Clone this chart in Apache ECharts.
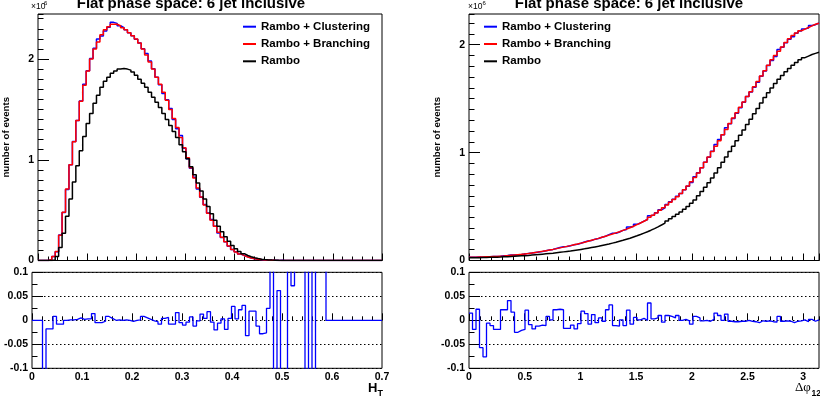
<!DOCTYPE html>
<html>
<head>
<meta charset="utf-8">
<script src="https://cdn.jsdelivr.net/npm/echarts@6/dist/echarts.min.js"></script>
<style>
html,body{margin:0;padding:0;background:#fff;}
#chart{width:820px;height:399px;}
</style>
</head>
<body>
<div id="chart"></div>
<script>
// ---------------- data (main plots in units of 10^6 events) ----------------
const seriesNames = ['Rambo + Clustering', 'Rambo + Branching', 'Rambo'];
const htRange = [0, 0.7];
const dphiRange = [0, Math.PI];

// H_T panel, 100 bins
const htClustering = [
0,0,0,0.0064,0.039,0.088,0.252,0.476,0.704,0.95,
1.181,1.391,1.583,1.749,1.884,2.006,2.106,2.2,2.229,2.279,
2.315,2.364,2.354,2.33,2.312,2.29,2.262,2.23,2.196,2.16,
2.102,2.056,1.98,1.904,1.818,1.745,1.657,1.596,1.509,1.399,
1.309,1.24,1.114,1.01,0.916,0.826,0.711,0.629,0.557,0.472,
0.407,0.339,0.274,0.229,0.186,0.142,0.11,0.087,0.065,0.049,
0.036,0.024,0.018,0.013,0.009,0.006,0.004,0.0029,0.0022,0.001,
0.0013,0.0004,0.00024,0.00024,0.00016,0.00012,0.00008,0.00006,0.000024,0.000024,
0.000008,0.000012,0.000006,0.000004,0,0,0,0,0,0,
0,0,0,0,0,0,0,0,0,0];
const htBranching = [
0,0,0,0.008,0.04,0.09,0.25,0.48,0.71,0.95,
1.18,1.39,1.58,1.74,1.88,2.0,2.1,2.17,2.24,2.29,
2.32,2.345,2.345,2.33,2.31,2.29,2.26,2.23,2.2,2.16,
2.1,2.04,1.97,1.9,1.82,1.75,1.67,1.59,1.5,1.41,
1.32,1.22,1.12,1.02,0.92,0.82,0.72,0.63,0.55,0.47,
0.4,0.34,0.28,0.23,0.185,0.145,0.11,0.085,0.065,0.048,
0.035,0.025,0.018,0.013,0.009,0.006,0.004,0.0028,0.0018,0.0012,
0.0008,0.0005,0.0003,0.0002,0.00015,0.0001,0.00007,0.00005,0.00003,0.00002,
0.00001,0.00001,0.000005,0.000003,0,0,0,0,0,0,
0,0,0,0,0,0,0,0,0,0];
const htRambo = [
0,0,0,0,0.005,0.04,0.13,0.27,0.44,0.61,
0.78,0.94,1.09,1.23,1.36,1.46,1.56,1.64,1.72,1.78,
1.82,1.86,1.88,1.9,1.905,1.9,1.89,1.87,1.84,1.8,
1.76,1.72,1.67,1.62,1.57,1.52,1.46,1.4,1.34,1.28,
1.22,1.15,1.08,1.01,0.93,0.85,0.77,0.69,0.61,0.535,
0.465,0.4,0.34,0.285,0.235,0.19,0.15,0.117,0.09,0.068,
0.05,0.037,0.027,0.019,0.013,0.009,0.006,0.004,0.0025,0.0015,
0.001,0.0006,0.0004,0.0002,0.0001,0.00008,0.00005,0.00003,0.00002,0.00001,
0.00001,0,0,0,0,0,0,0,0,0,
0,0,0,0,0,0,0,0,0,0];
const htRatio = [
0,0,0,-0.2,-0.018,-0.018,0.008,-0.008,-0.008,0,
0.001,0.001,0.002,0.005,0.002,0.003,0.003,0.014,-0.005,-0.005,
-0.002,0.008,0.004,0,0.001,0,0.001,0,-0.002,0,
0.001,0.008,0.005,0.002,-0.001,-0.003,-0.008,0.004,0.006,-0.008,
-0.008,0.016,-0.005,-0.01,-0.004,0.007,-0.012,-0.001,0.013,0.004,
0.018,-0.004,-0.02,-0.006,0.003,-0.019,0.004,0.029,0.003,0.022,
0.031,-0.032,0.019,0.019,-0.012,-0.028,-0.026,0.025,0.2,-0.2,
0.062,-0.2,-0.2,0.2,0.072,0.2,0.2,0.2,-0.2,0.2,
-0.2,0.2,0.2,0.2,0,0,0,0,0,0,
0,0,0,0,0,0,0,0,0,0];

// Delta phi_12 panel, 100 bins
const dphiClustering = [
0.03,0.03,0.033,0.031,0.031,0.035,0.037,0.037,0.039,0.043,
0.046,0.05,0.052,0.053,0.056,0.06,0.066,0.069,0.074,0.079,
0.084,0.09,0.098,0.103,0.112,0.12,0.127,0.129,0.136,0.145,
0.15,0.16,0.172,0.18,0.186,0.198,0.204,0.216,0.225,0.24,
0.253,0.253,0.264,0.279,0.288,0.31,0.315,0.335,0.348,0.365,
0.38,0.414,0.421,0.442,0.47,0.488,0.52,0.544,0.568,0.596,
0.62,0.656,0.689,0.724,0.776,0.814,0.859,0.91,0.958,1.012,
1.076,1.121,1.165,1.231,1.267,1.316,1.366,1.417,1.467,1.52,
1.562,1.605,1.652,1.708,1.756,1.808,1.854,1.892,1.956,1.976,
2.018,2.051,2.075,2.106,2.128,2.147,2.154,2.179,2.186,2.202];
const dphiBranching = [
0.03,0.031,0.032,0.033,0.034,0.035,0.037,0.038,0.04,0.042,
0.045,0.048,0.051,0.054,0.057,0.061,0.065,0.07,0.075,0.08,
0.085,0.091,0.097,0.103,0.11,0.117,0.124,0.131,0.138,0.146,
0.153,0.161,0.169,0.178,0.187,0.196,0.205,0.215,0.225,0.235,
0.245,0.256,0.267,0.279,0.291,0.304,0.318,0.333,0.348,0.364,
0.38,0.4,0.42,0.44,0.465,0.49,0.515,0.54,0.565,0.59,
0.62,0.655,0.69,0.73,0.77,0.81,0.86,0.91,0.96,1.01,
1.06,1.11,1.165,1.215,1.27,1.32,1.37,1.42,1.47,1.52,
1.565,1.61,1.66,1.71,1.76,1.81,1.86,1.9,1.94,1.98,
2.02,2.055,2.085,2.11,2.13,2.145,2.16,2.175,2.19,2.2];
const dphiRambo = [
0.025,0.026,0.026,0.027,0.028,0.029,0.03,0.031,0.032,0.034,
0.035,0.037,0.039,0.041,0.043,0.045,0.047,0.05,0.053,0.056,
0.059,0.062,0.065,0.068,0.072,0.076,0.08,0.084,0.088,0.093,
0.098,0.103,0.108,0.114,0.12,0.126,0.132,0.139,0.146,0.153,
0.161,0.169,0.178,0.187,0.197,0.207,0.218,0.229,0.241,0.254,
0.267,0.281,0.296,0.312,0.329,0.347,0.366,0.386,0.407,0.429,
0.45,0.475,0.5,0.53,0.56,0.6,0.64,0.68,0.72,0.765,
0.81,0.86,0.91,0.96,1.01,1.06,1.11,1.16,1.21,1.26,
1.31,1.36,1.41,1.46,1.51,1.555,1.6,1.64,1.68,1.715,
1.75,1.78,1.81,1.835,1.86,1.88,1.895,1.91,1.92,1.93];
const dphiRatio = [
0.015,-0.019,0.023,-0.057,-0.076,-0.006,-0.011,-0.019,-0.019,0.022,
0.022,0.041,0.017,-0.025,-0.021,-0.019,0.021,-0.009,-0.018,-0.012,
-0.01,-0.011,0.008,0.001,0.022,0.023,0.022,-0.017,-0.017,-0.01,
-0.018,-0.007,0.019,0.014,-0.008,0.012,-0.005,0.005,-0.002,0.022,
0.032,-0.011,-0.012,0.001,-0.011,0.021,-0.008,0.006,0.001,0.004,
0,0.036,0.003,0.005,0.01,-0.004,0.01,0.008,0.005,0.01,
0,0.002,-0.001,-0.008,0.008,0.005,-0.001,0,-0.002,0.002,
0.015,0.01,0,0.013,-0.002,-0.003,-0.003,-0.002,-0.002,0,
-0.002,-0.003,-0.005,-0.001,-0.002,-0.001,-0.003,-0.004,0.008,-0.002,
-0.001,-0.002,-0.005,-0.002,-0.001,0.001,-0.003,0.002,-0.002,0.001];

// axis extents / tick steps
const htMainMax = 2.447, dphiMainMax = 2.285;
const ratioRange = [-0.1, 0.1];

// ---------------- build ----------------
const FONT = '"Liberation Sans", Arial, sans-serif';
const COLORS = ['#0000ff', '#ff0000', '#000000'];

function histPoints(values, range) {
  const n = values.length, w = (range[1] - range[0]) / n;
  const pts = values.map((v, i) => [range[0] + i * w, v]);
  pts.push([range[1], values[n - 1]]);
  return pts;
}

const grids = [
  {left: 32, top: 14, width: 350, height: 246.5},
  {left: 32, top: 272.3, width: 350, height: 96},
  {left: 469, top: 14, width: 350, height: 246.5},
  {left: 469, top: 272.3, width: 350, height: 96}
].map(g => Object.assign(g, {show: true, borderColor: '#000', borderWidth: 1, backgroundColor: 'transparent', containLabel: false}));

const labelStyle = {color: '#000', fontFamily: FONT, fontWeight: 'bold', fontSize: 10.5};

function xAx(grid, range, interval, len, labels) {
  return {
    type: 'value', gridIndex: grid, position: 'bottom', min: range[0], max: range[1], interval: interval,
    axisLine: {show: false}, splitLine: {show: false},
    axisTick: {show: true, inside: true, length: len, lineStyle: {color: '#000', width: 1}},
    axisLabel: labels ? Object.assign({show: true, margin: 3, showMaxLabel: range[1] === htRange[1]}, labelStyle) : {show: false}
  };
}
function yAx(grid, min, max, interval, len, labels, extra) {
  return Object.assign({
    type: 'value', gridIndex: grid, position: 'left', min: min, max: max, interval: interval,
    axisLine: {show: false}, splitLine: {show: false},
    axisTick: {show: true, inside: true, length: len, lineStyle: {color: '#000', width: 1}},
    axisLabel: labels ? Object.assign({show: true, margin: 4}, labelStyle) : {show: false}
  }, extra || {});
}

const xAxes = [
  xAx(0, htRange, 0.1, 7, false),  xAx(0, htRange, 0.02, 4, false),
  xAx(1, htRange, 0.1, 7, true),   xAx(1, htRange, 0.02, 4, false),
  xAx(2, dphiRange, 0.5, 7, false), xAx(2, dphiRange, 0.1, 4, false),
  xAx(3, dphiRange, 0.5, 7, true),  xAx(3, dphiRange, 0.1, 4, false)
];
xAxes[6].axisLabel.showMaxLabel = false;

const yName = {name: 'number of events', nameLocation: 'middle', nameRotate: 90,
  nameTextStyle: {color: '#000', fontFamily: FONT, fontWeight: 'bold', fontSize: 9.7}};
const dotted = {splitLine: {show: true, lineStyle: {color: '#000', width: 1, type: [1.5, 2.5]}}};

const yAxes = [
  yAx(0, 0, htMainMax, 1, 11, true, Object.assign({nameGap: 27}, yName)),
  yAx(0, 0, htMainMax, 0.1, 5.5, false),
  yAx(1, ratioRange[0], ratioRange[1], 0.05, 11, true, dotted),
  yAx(1, ratioRange[0], ratioRange[1], 0.025, 5.5, false),
  yAx(2, 0, dphiMainMax, 1, 11, true, Object.assign({nameGap: 26.5}, yName)),
  yAx(2, 0, dphiMainMax, 0.1, 5.5, false),
  yAx(3, ratioRange[0], ratioRange[1], 0.05, 11, true, dotted),
  yAx(3, ratioRange[0], ratioRange[1], 0.025, 5.5, false)
];
yAxes[0].axisLabel.showMaxLabel = false;
yAxes[4].axisLabel.showMaxLabel = false;

function hist(name, values, range, ax, color, z, width) {
  return {
    type: 'line', name: name, xAxisIndex: ax, yAxisIndex: ax, data: histPoints(values, range),
    step: 'end', symbol: 'none', showSymbol: false, clip: true, silent: true, z: z,
    color: color, lineStyle: {color: color, width: width}, emphasis: {disabled: true}
  };
}

const series = [
  hist(seriesNames[0], htClustering, htRange, 0, COLORS[0], 2, 1.5),
  hist(seriesNames[1], htBranching, htRange, 0, COLORS[1], 3, 1.5),
  hist(seriesNames[2], htRambo, htRange, 0, COLORS[2], 4, 1.5),
  hist('ratio_ht', htRatio, htRange, 2, COLORS[0], 3, 1.3),
  hist(seriesNames[0], dphiClustering, dphiRange, 4, COLORS[0], 2, 1.5),
  hist(seriesNames[1], dphiBranching, dphiRange, 4, COLORS[1], 3, 1.5),
  hist(seriesNames[2], dphiRambo, dphiRange, 4, COLORS[2], 4, 1.5),
  hist('ratio_dphi', dphiRatio, dphiRange, 6, COLORS[0], 3, 1.3)
];

function legend(left) {
  return {
    left: left, top: 19.7, orient: 'vertical', icon: 'rect', itemWidth: 13, itemHeight: 2, itemGap: 3.3, padding: 0,
    selectedMode: false,
    textStyle: {color: '#000', fontFamily: FONT, fontWeight: 'bold', fontSize: 11.5, lineHeight: 14},
    data: seriesNames
  };
}

function txt(x, y, text, font, align) {
  return {type: 'text', x: x, y: y, silent: true,
    style: {text: text, font: font, fill: '#000', align: align || 'left', verticalAlign: 'middle',
            textAlign: align || 'left', textVerticalAlign: 'middle'}};
}
const title = 'Flat phase space: 6 jet inclusive';
const graphic = [
  txt(191, 3.75, title, 'bold 15px ' + FONT, 'center'),
  txt(629, 3.75, title, 'bold 15px ' + FONT, 'center'),
  txt(31, 7, '\u00d710', '8.5px ' + FONT),
  txt(44, 2.9, '6', '6px ' + FONT),
  txt(468, 7, '\u00d710', '8.5px ' + FONT),
  txt(482.5, 2.9, '6', '6px ' + FONT),
  txt(368, 388.7, 'H', 'bold 13px ' + FONT),
  txt(377.5, 393.8, 'T', 'bold 9px ' + FONT),
  txt(795, 387.2, '\u0394\u03c6', '13px "Liberation Serif", serif'),
  txt(811.5, 393.7, '12', 'bold 8.5px ' + FONT)
];

const chart = echarts.init(document.getElementById('chart'), null, {renderer: 'canvas'});
chart.setOption({
  animation: false,
  backgroundColor: '#fff',
  grid: grids,
  xAxis: xAxes,
  yAxis: yAxes,
  legend: [legend(243), legend(484)],
  series: series,
  graphic: graphic
});
</script>
</body>
</html>
